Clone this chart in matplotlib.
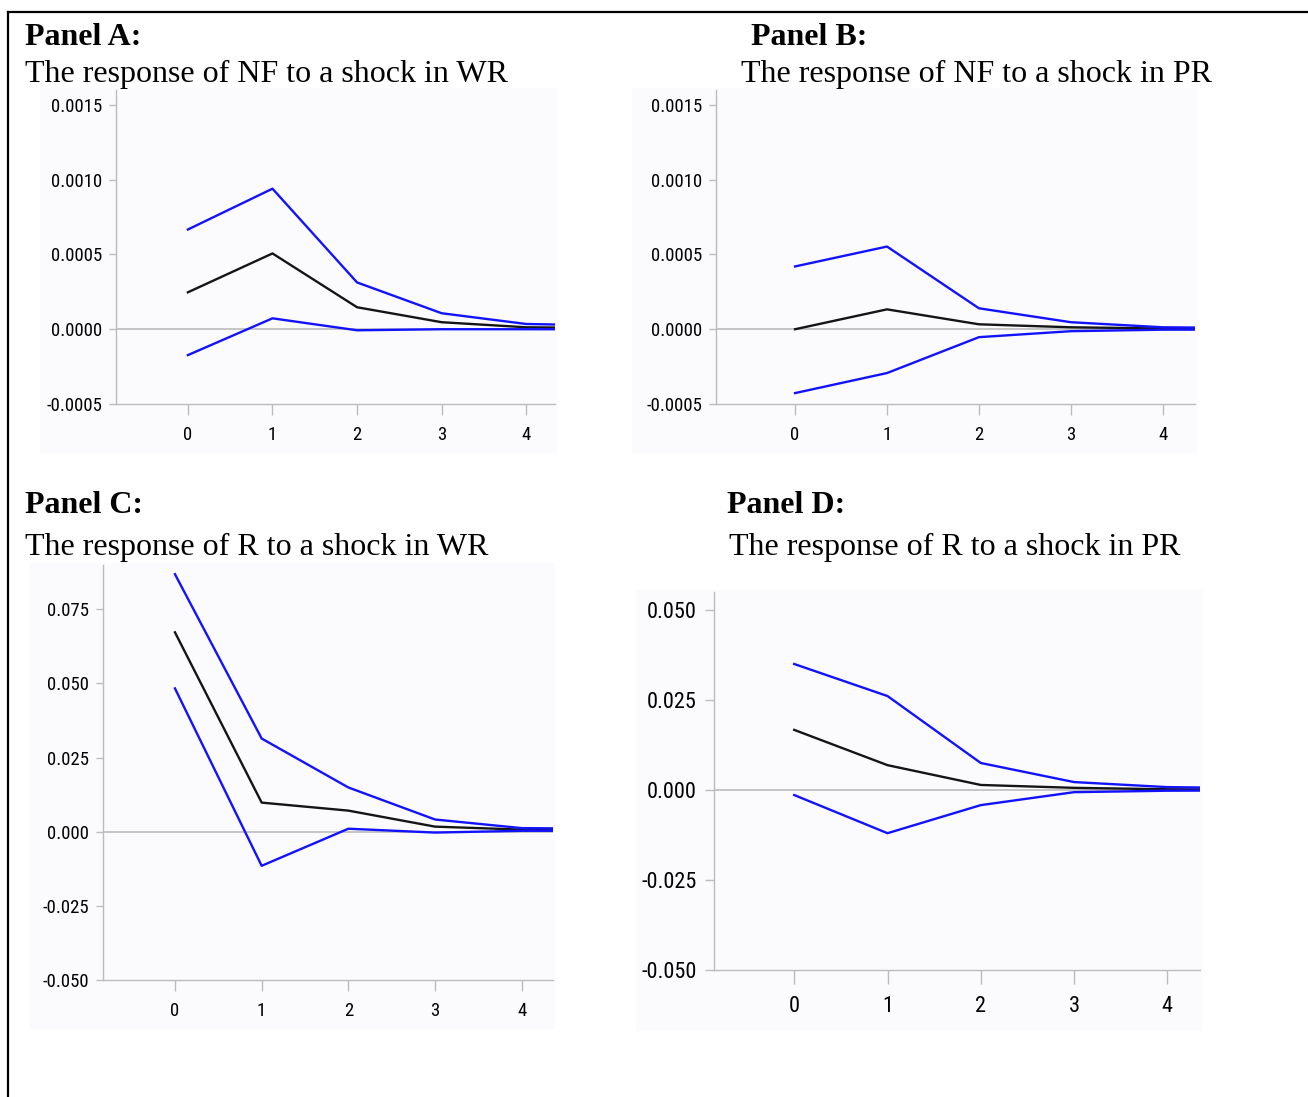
import matplotlib
matplotlib.use("Agg")
from matplotlib import pyplot as plt
from matplotlib.lines import Line2D

# impulse response horizons (step 5 is drawn but clipped by the axis limit)
steps = [0, 1, 2, 3, 4, 5]

# Panel A: NF to WR
a_upper = [0.000667, 0.00094, 0.000313, 0.000107, 0.000035, 0.000025]
a_mean = [0.000247, 0.000507, 0.000147, 0.000047, 0.000013, 0.000008]
a_lower = [-0.000173, 0.000073, -0.000007, 0.0, 0.0, 0.0]

# Panel B: NF to PR
b_upper = [0.00042, 0.000553, 0.00014, 0.000047, 0.000013, 0.000008]
b_mean = [0.0, 0.000133, 0.000033, 0.000013, 0.000005, 0.000003]
b_lower = [-0.000427, -0.000293, -0.000053, -0.000013, -0.000003, -0.000002]

# Panel C: R to WR
c_upper = [0.0868, 0.0314, 0.0149, 0.0041, 0.0012, 0.0010]
c_mean = [0.0672, 0.0098, 0.0071, 0.0017, 0.0007, 0.0006]
c_lower = [0.0483, -0.0115, 0.0010, -0.0003, 0.0003, 0.0003]

# Panel D: R to PR
d_upper = [0.035, 0.0261, 0.0075, 0.0022, 0.0008, 0.0005]
d_mean = [0.0167, 0.0069, 0.0014, 0.0006, 0.0002, 0.0001]
d_lower = [-0.0014, -0.012, -0.0042, -0.0006, -0.0002, -0.0001]

xticks = [0, 1, 2, 3, 4]
nf_ticks = [-0.0005, 0.0, 0.0005, 0.0010, 0.0015]
c_ticks = [-0.050, -0.025, 0.0, 0.025, 0.050, 0.075]
d_ticks = [-0.050, -0.025, 0.0, 0.025, 0.050]

panel_names = ["Panel A:", "Panel B:", "Panel C:", "Panel D:"]
subtitles = ["The response of NF to a shock in WR",
             "The response of NF to a shock in PR",
             "The response of R to a shock in WR",
             "The response of R to a shock in PR"]

W, H = 1308, 1097
fig = plt.figure(figsize=(W / 100, H / 100), dpi=100)

grey = "#bcbcbc"
# narrow sans for the graph labels, first installed one wins
tickfont = ["Liberation Sans Narrow", "Roboto Condensed", "Archivo Narrow",
            "PT Sans Narrow", "DejaVu Sans"]
serif = ["Liberation Serif", "DejaVu Serif"]

def px(x0, y0, x1, y1):
    # pixel box -> figure fraction rect
    return [x0 / W, 1 - y1 / H, (x1 - x0) / W, (y1 - y0) / H]

def panel(rect, bg, up, mid, lo, xlim, ylim, yt, fmt, fs, big=False):
    # faint background of the exported graph image
    fig.patches.append(plt.Rectangle((bg[0] / W, 1 - bg[3] / H), (bg[2] - bg[0]) / W,
                                     (bg[3] - bg[1]) / H, transform=fig.transFigure,
                                     color="#fbfbfd", zorder=-5))
    ax = fig.add_axes(px(*rect))
    ax.set_zorder(2)
    ax.set_facecolor("none")
    ax.axhline(0, color=grey, lw=1.2, zorder=1)
    ax.plot(steps, up, color="#1212ff", lw=1.7, zorder=3)
    ax.plot(steps, lo, color="#1212ff", lw=1.7, zorder=3)
    ax.plot(steps, mid, color="#151515", lw=1.7, zorder=2)
    ax.set_xlim(*xlim)
    ax.set_ylim(*ylim)
    ax.set_xticks(xticks)
    ax.set_yticks(yt)
    ax.set_yticklabels([fmt % v for v in yt], family=tickfont, fontsize=fs)
    ax.set_xticklabels([str(v) for v in xticks], family=tickfont, fontsize=fs)
    for s in ["top", "right"]:
        ax.spines[s].set_visible(False)
    for s in ["left", "bottom"]:
        ax.spines[s].set_color(grey)
        ax.spines[s].set_linewidth(1.0)
    if big:
        ax.tick_params(axis="y", length=6.5, color=grey, width=1.0, pad=6, labelcolor="black")
        ax.tick_params(axis="x", length=10, color=grey, width=1.0, pad=9, labelcolor="black")
    else:
        ax.tick_params(axis="y", length=5, color=grey, width=1.0, pad=5, labelcolor="black")
        ax.tick_params(axis="x", length=8, color=grey, width=1.0, pad=8, labelcolor="black")
    return ax

panel((116, 90, 555, 404), (40, 88, 556, 452), a_upper, a_mean, a_lower,
      (-0.85, 4.34), (-0.0005, 0.0016), nf_ticks, "%.4f", 13.5)
panel((716, 90, 1195, 404), (632, 88, 1196, 452), b_upper, b_mean, b_lower,
      (-0.86, 4.35), (-0.0005, 0.0016), nf_ticks, "%.4f", 13.5)
panel((103, 565, 553, 980), (30, 563, 554, 1028), c_upper, c_mean, c_lower,
      (-0.83, 4.36), (-0.05, 0.0899), c_ticks, "%.3f", 13.5)
panel((714, 592, 1200, 970), (636, 590, 1201, 1030), d_upper, d_mean, d_lower,
      (-0.86, 4.35), (-0.05, 0.055), d_ticks, "%.3f", 16, big=True)

# titles
title_pos = [(25, 45, 25, 82), (751, 45, 741, 82), (25, 513, 25, 555), (727, 513, 729, 555)]
for name, sub, (x0, y0, x1, y1) in zip(panel_names, subtitles, title_pos):
    fig.text(x0 / W, 1 - y0 / H, name, family=serif, fontweight="bold", fontsize=23,
             va="baseline", ha="left")
    fig.text(x1 / W, 1 - y1 / H, sub, family=serif, fontsize=23, va="baseline", ha="left")

# page frame (top and left rules)
fig.lines.append(Line2D([8 / W, 1], [1 - 12 / H, 1 - 12 / H], transform=fig.transFigure,
                        color="black", lw=1.6))
fig.lines.append(Line2D([8 / W, 8 / W], [0, 1 - 12 / H], transform=fig.transFigure,
                        color="black", lw=1.6))

fig.savefig("out.png", dpi=100)
